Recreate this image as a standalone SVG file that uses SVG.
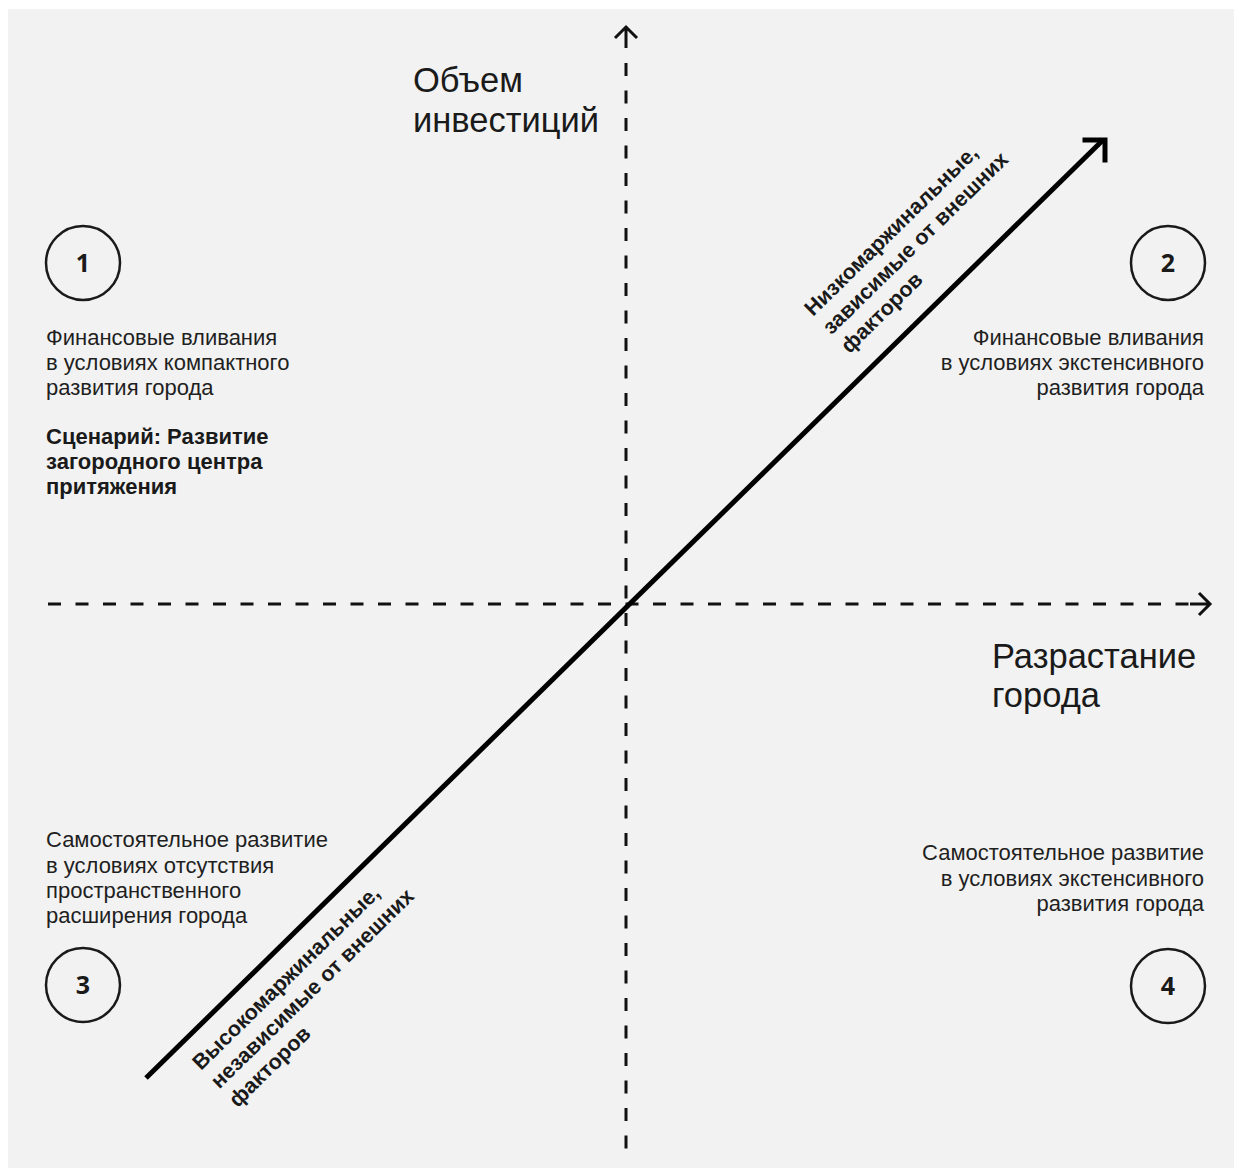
<svg xmlns="http://www.w3.org/2000/svg" width="1235" height="1169" viewBox="0 0 1235 1169">
<style>
.body{font-family:"Liberation Sans",Arial,sans-serif;font-size:22px;fill:#1f1f1f}
.bold{font-family:"Liberation Sans",Arial,sans-serif;font-size:22px;font-weight:bold;fill:#1a1a1a}
.rot{font-family:"Liberation Sans",Arial,sans-serif;font-size:21.5px;font-weight:bold;fill:#1a1a1a}
.axis{font-family:"Liberation Sans",Arial,sans-serif;font-size:34.5px;fill:#1a1a1a}
.num{font-family:"Open Sans","Liberation Sans",sans-serif;font-size:25px;font-weight:bold;fill:#1a1a1a;text-anchor:middle}
.ring{fill:none;stroke:#1a1a1a;stroke-width:2.5}
.dash{fill:none;stroke:#111;stroke-width:3;stroke-dasharray:13 14.5}
.head{fill:none;stroke:#111;stroke-width:3}
.r{text-anchor:end}
</style>
<rect x="8" y="9" width="1226" height="1159" fill="#f2f2f2"/>
<g id="connectors">
<path class="dash" d="M626 63 V1160"/>
<path class="head" d="M615 38 L626 27 L637 38 M626 27 V48"/>
<path class="dash" d="M48 604 H1192"/>
<path class="head" d="M1199 593 L1210 604 L1199 615 M1190 604 H1210"/>
<path d="M146 1078 L1102 141" fill="none" stroke="#000" stroke-width="5"/>
<path d="M1085 140 H1105 V160" fill="none" stroke="#000" stroke-width="5" stroke-linecap="square"/>
</g>
<g id="axis-y-label">
<text class="axis" x="413" y="92">Объем</text>
<text class="axis" x="413" y="132">инвестиций</text>
</g>
<g id="axis-x-label">
<text class="axis" x="992" y="668">Разрастание</text>
<text class="axis" x="992" y="707">города</text>
</g>
<g id="q1">
<circle class="ring" cx="83" cy="263" r="37"/>
<text class="num" x="83" y="272">1</text>
<text class="body" x="46" y="345">Финансовые вливания</text>
<text class="body" x="46" y="370">в условиях компактного</text>
<text class="body" x="46" y="395">развития города</text>
<text class="bold" x="46" y="444">Сценарий: Развитие</text>
<text class="bold" x="46" y="469">загородного центра</text>
<text class="bold" x="46" y="494">притяжения</text>
</g>
<g id="q2">
<circle class="ring" cx="1168" cy="263" r="37"/>
<text class="num" x="1168" y="272">2</text>
<text class="body r" x="1204" y="345">Финансовые вливания</text>
<text class="body r" x="1204" y="370">в условиях экстенсивного</text>
<text class="body r" x="1204" y="395">развития города</text>
</g>
<g id="q3">
<circle class="ring" cx="83" cy="985" r="37"/>
<text class="num" x="83" y="994">3</text>
<text class="body" x="46" y="847">Самостоятельное развитие</text>
<text class="body" x="46" y="873">в условиях отсутствия</text>
<text class="body" x="46" y="898">пространственного</text>
<text class="body" x="46" y="923">расширения города</text>
</g>
<g id="q4">
<circle class="ring" cx="1168" cy="986" r="37"/>
<text class="num" x="1168" y="995">4</text>
<text class="body r" x="1204" y="860">Самостоятельное развитие</text>
<text class="body r" x="1204" y="886">в условиях экстенсивного</text>
<text class="body r" x="1204" y="911">развития города</text>
</g>
<g id="label-low" transform="translate(813,317) rotate(-44.4)">
<text class="rot" x="0" y="0">Низкомаржинальные,</text>
<text class="rot" x="0" y="26">зависимые от внешних</text>
<text class="rot" x="0" y="52">факторов</text>
</g>
<g id="label-high" transform="translate(201,1071) rotate(-44.4)">
<text class="rot" x="0" y="0">Высокомаржинальные,</text>
<text class="rot" x="0" y="26">независимые от внешних</text>
<text class="rot" x="0" y="52">факторов</text>
</g>
</svg>
